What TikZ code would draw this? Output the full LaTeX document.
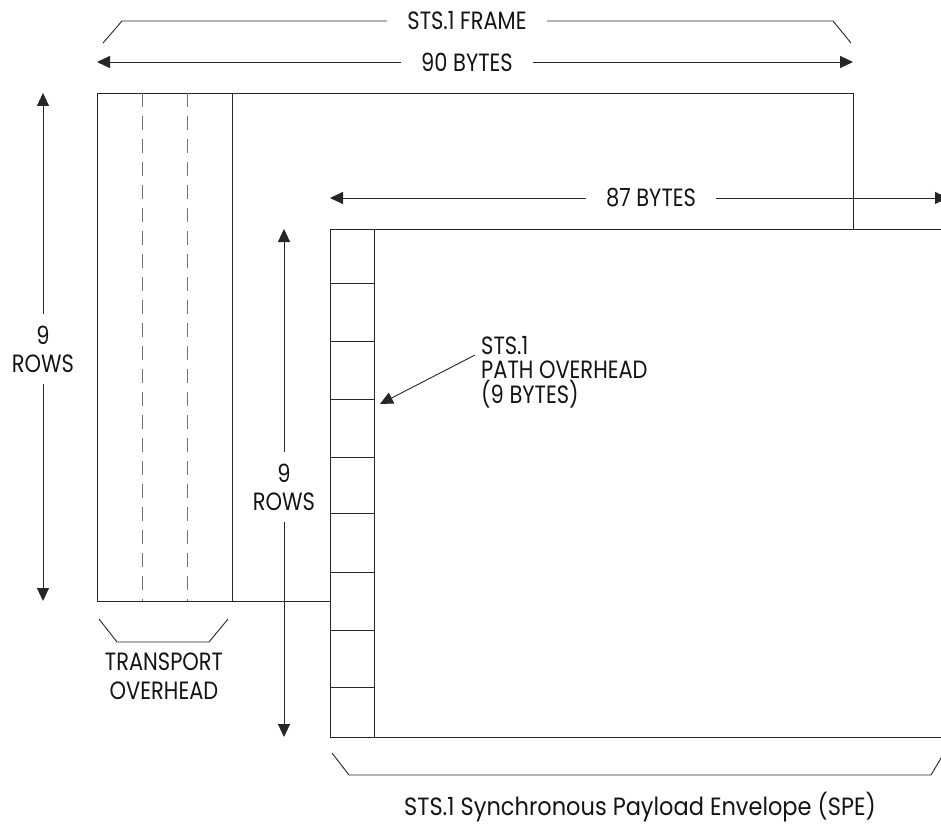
\documentclass[tikz,border=0pt]{standalone}
\usepackage{fontspec}
\setmainfont{Poppins}[FakeStretch=0.84]
\newfontfamily\widefont{Poppins}[FakeStretch=0.9]
\usetikzlibrary{arrows.meta}
\begin{document}
\begin{tikzpicture}[x=1pt,y=-1pt,
  ln/.style={line width=0.9pt, draw=black!85},
  dimarr/.style={ln, {Triangle[length=13pt,width=12pt]}-{Triangle[length=13pt,width=12pt]}},
  onearr/.style={ln, -{Triangle[length=13pt,width=12pt]}},
  dashln/.style={line width=0.9pt, draw=black!55, dash pattern=on 14pt off 9pt},
  lbl/.style={font=\fontsize{25}{28}\selectfont, text=black!92, inner sep=0pt},
  mask/.style={lbl, fill=white, inner xsep=20pt, inner ysep=2pt},
  vmask/.style={lbl, fill=white, align=center, inner xsep=2pt, inner ysep=12pt}]
\useasboundingbox (0,0) rectangle (941,824);
\fill[white] (0,0) rectangle (941,824);

% ---- coordinates ----
\coordinate (Ftl) at (97,93);
\coordinate (Ftr) at (853,93);
\coordinate (Fbl) at (97,601);
\coordinate (Fbj) at (330,601);
\coordinate (Frj) at (853,229);
\coordinate (Stl) at (330,229);
\coordinate (Sbl) at (330,737);
\coordinate (Str) at (946,229);
\coordinate (Sbr) at (946,737);

% ---- STS-1 frame outline ----
\draw[ln] (Fbj) -- (Fbl) -- (Ftl) -- (Ftr) -- (Frj);
\draw[dashln] (142,93) -- (142,601);
\draw[dashln] (187,93) -- (187,601);
\draw[ln] (232,93) -- (232,601);

% ---- SPE ----
\draw[ln] (Str) -- (Stl) -- (Sbl) -- (Sbr);
\draw[ln] (374,229) -- (374,737);
\foreach \yy in {283,341,399,457,513,572,630,687}
  \draw[ln] (330,\yy) -- (374,\yy);

% ---- top brace: STS.1 FRAME ----
\coordinate (tb1) at (103,43);
\coordinate (tb2) at (122,21);
\coordinate (tb3) at (833,21);
\coordinate (tb4) at (851,43);
\draw[ln] (tb1) -- (tb2) -- (tb3) -- (tb4);
\node[mask] (frame) at (467,21) {STS.1 FRAME};

% ---- 90 bytes ----
\coordinate (a90l) at (97,62);
\coordinate (a90r) at (853,62);
\draw[dimarr] (a90l) -- (a90r);
\node[mask] (b90) at (467,62) {90 BYTES};

% ---- 87 bytes ----
\coordinate (a87l) at (330,198);
\coordinate (a87r) at (948,198);
\draw[dimarr] (a87l) -- (a87r);
\node[mask] (b87) at (651,198) {87 BYTES};

% ---- 9 rows (frame) ----
\coordinate (r1t) at (43,93);
\coordinate (r1b) at (43,601);
\draw[dimarr] (r1t) -- (r1b);
\node[vmask] (rows1) at (43,349) {9\\ROWS};

% ---- 9 rows (SPE) ----
\coordinate (r2t) at (284,229);
\coordinate (r2b) at (284,737);
\draw[dimarr] (r2t) -- (r2b);
\node[vmask] (rows2) at (284,487) {9\\ROWS};

% ---- path overhead ----
\node[lbl, align=left, anchor=west, font=\fontsize{25}{24.5}\selectfont] (po) at (481,372) {STS.1\\PATH OVERHEAD\\(9 BYTES)};
\coordinate (poS) at (475,355);
\coordinate (poT) at (380,404);
\draw[onearr] (poS) -- (poT);

% ---- transport overhead brace ----
\coordinate (to1) at (99,619);
\coordinate (to2) at (117,642);
\coordinate (to3) at (209,642);
\coordinate (to4) at (228,619);
\draw[ln] (to1) -- (to2) -- (to3) -- (to4);
\node[lbl, align=center, font=\fontsize{25}{29}\selectfont] (toh) at (164,676) {TRANSPORT\\OVERHEAD};

% ---- SPE brace ----
\coordinate (sb1) at (332,753);
\coordinate (sb2) at (349,775);
\coordinate (sb3) at (931,775);
\coordinate (sb4) at (944,753);
\draw[ln] (sb1) -- (sb2) -- (sb3) -- (sb4);
\node[lbl, font=\widefont\fontsize{25}{28}\selectfont] (spe) at (640,807) {STS.1 Synchronous Payload Envelope (SPE)};
\end{tikzpicture}
\end{document}
